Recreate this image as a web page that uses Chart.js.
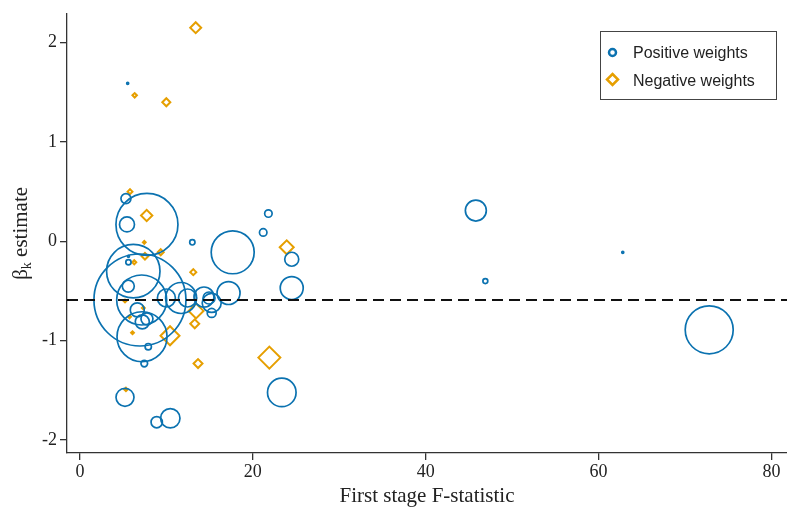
<!DOCTYPE html>
<html>
<head>
<meta charset="utf-8">
<script src="https://cdn.jsdelivr.net/npm/chart.js@4.4.1/dist/chart.umd.min.js"></script>
<style>
  html, body { margin: 0; padding: 0; background: #fff; }
</style>
</head>
<body>
<canvas id="fstatChart" width="787" height="509"></canvas>
<script>
// first stage F-statistic, beta_k estimate and weight of each instrument
const posF = [7.75, 5.44, 5.32, 13.0, 17.67, 21.8, 21.2, 24.5, 24.5, 45.8, 46.9, 62.8, 72.8,
  6.94, 6.17, 7.14, 7.18, 5.59, 5.61, 5.61, 6.63, 7.21, 7.75, 7.9, 7.44, 5.21, 8.88, 10.45,
  23.35, 10.0, 11.7, 12.44, 14.35, 14.93, 15.24, 15.24, 17.19, 5.52];
const posBeta = [0.17, 0.17, 0.43, -0.01, -0.11, 0.28, 0.09, -0.18, -0.47, 0.31, -0.40, -0.11, -0.89,
  -0.59, -0.30, -0.59, -0.96, -0.45, -0.21, -0.15, -0.69, -0.81, -0.78, -1.06, -1.23, -1.57, -1.82, -1.78,
  -1.52, -0.57, -0.57, -0.57, -0.56, -0.57, -0.62, -0.72, -0.52, 1.59];
const posWeight = [0.0961, 0.0056, 0.0025, 0.0007, 0.0462, 0.0014, 0.0014, 0.0049, 0.0132, 0.011, 0.0006, 0.0001, 0.0576,
  0.2116, 0.0713, 0.0625, 0.0625, 0.0036, 0.0007, 0.0001, 0.0049, 0.0049, 0.0036, 0.001, 0.0011, 0.0081, 0.0032, 0.0094,
  0.0204, 0.0081, 0.024, 0.0081, 0.01, 0.0036, 0.009, 0.002, 0.0132, 0.0001];

const negF = [13.39, 6.33, 9.99, 5.79, 7.72, 7.44, 7.52, 9.34, 6.28, 13.11, 23.92, 13.43, 13.28,
  10.42, 13.66, 21.91, 5.32, 5.21, 5.73, 7.33, 6.08];
const negBeta = [2.15, 1.47, 1.40, 0.50, 0.26, -0.01, -0.15, -0.11, -0.21, -0.31, -0.06, -0.70, -0.83,
  -0.95, -1.23, -1.17, -1.49, -0.60, -0.76, -0.67, -0.92];
const negWeight = [0.003, 0.0005, 0.0016, 0.0006, 0.0032, 0.0002, 0.0011, 0.0009, 0.0004, 0.0009, 0.0049, 0.0056, 0.002,
  0.009, 0.002, 0.0121, 0.0003, 0.0002, 0.0002, 0.0002, 0.0002];

const meanBeta = -0.59;
const xTicks = [0, 20, 40, 60, 80];
const yTicks = [-2, -1, 0, 1, 2];
const seriesLabels = ['Positive weights', 'Negative weights'];
const xTitle = 'First stage F-statistic';
const yTitle = ['\u03B2', 'k', ' estimate'];

const xMin = -1.5, xMax = 81.8;
const yMin = -2.13, yMax = 2.29;
const blue = '#0b72b0';
const orange = '#e69f00';
const axisColor = '#333';
const serif = '"Liberation Serif", "Times New Roman", serif';
const sans = '"Liberation Sans", Arial, sans-serif';

// bubble radius from weight (area proportional)
const radius = w => 100 * Math.sqrt(w);

function bubbles(xs, ys, ws) {
    return xs.map((x, i) => ({ x: x, y: ys[i], r: radius(ws[i]) }));
}

// y title with subscript and boxed legend, drawn on the canvas
const extrasPlugin = {
    id: 'extras',
    afterDraw(chart) {
        const ctx = chart.ctx;
        const area = chart.chartArea;

        ctx.save();
        ctx.translate(21, (area.top + area.bottom) / 2);
        ctx.rotate(-Math.PI / 2);
        ctx.fillStyle = '#222';
        ctx.textBaseline = 'middle';
        const mainFont = '21px ' + serif;
        const subFont = '14px ' + serif;
        ctx.font = mainFont;
        const w1 = ctx.measureText(yTitle[0]).width;
        const w3 = ctx.measureText(yTitle[2]).width;
        ctx.font = subFont;
        const w2 = ctx.measureText(yTitle[1]).width;
        let x0 = -(w1 + w2 + w3) / 2;
        ctx.font = mainFont;
        ctx.fillText(yTitle[0], x0, 0);
        ctx.font = subFont;
        ctx.fillText(yTitle[1], x0 + w1, 6);
        ctx.font = mainFont;
        ctx.fillText(yTitle[2], x0 + w1 + w2, 0);
        ctx.restore();

        // legend box
        ctx.save();
        ctx.strokeStyle = '#444';
        ctx.lineWidth = 1;
        ctx.strokeRect(600.5, 31.5, 176, 68);
        ctx.font = '16px ' + sans;
        ctx.fillStyle = '#222';
        ctx.textBaseline = 'middle';

        ctx.lineWidth = 2.5;
        ctx.strokeStyle = blue;
        ctx.beginPath();
        ctx.arc(612.5, 52.5, 3.5, 0, Math.PI * 2);
        ctx.stroke();
        ctx.fillText(seriesLabels[0], 633, 54);

        ctx.strokeStyle = orange;
        ctx.beginPath();
        ctx.moveTo(612.5, 74);
        ctx.lineTo(618, 79.5);
        ctx.lineTo(612.5, 85);
        ctx.lineTo(607, 79.5);
        ctx.closePath();
        ctx.stroke();
        ctx.fillText(seriesLabels[1], 633, 82);
        ctx.restore();
    }
};

const ctx = document.getElementById('fstatChart').getContext('2d');

new Chart(ctx, {
    type: 'bubble',
    data: {
        datasets: [
            {
                label: 'mean',
                type: 'line',
                data: [{ x: xMin, y: meanBeta }, { x: xMax, y: meanBeta }],
                borderColor: '#111',
                borderWidth: 2,
                borderDash: [11, 6],
                pointRadius: 0,
                fill: false,
                order: 0
            },
            {
                label: seriesLabels[0],
                data: bubbles(posF, posBeta, posWeight),
                borderColor: blue,
                backgroundColor: 'rgba(0,0,0,0)',
                borderWidth: 1.7,
                pointStyle: 'circle',
                order: 1
            },
            {
                label: seriesLabels[1],
                data: bubbles(negF, negBeta, negWeight),
                borderColor: orange,
                backgroundColor: 'rgba(0,0,0,0)',
                borderWidth: 2,
                pointStyle: 'rectRot',
                order: 2
            }
        ]
    },
    options: {
        responsive: false,
        animation: false,
        layout: { autoPadding: false, padding: { top: 8, right: 0, left: 0, bottom: 0 } },
        plugins: {
            legend: { display: false },
            tooltip: { enabled: false }
        },
        scales: {
            x: {
                type: 'linear',
                min: xMin,
                max: xMax,
                afterBuildTicks: s => { s.ticks = xTicks.map(v => ({ value: v })); },
                afterFit: s => { s.height = 56; },
                grid: { drawOnChartArea: false, drawTicks: true, tickLength: 7, color: axisColor, lineWidth: 1.3 },
                border: { display: true, color: axisColor, width: 1.3 },
                ticks: { font: { family: serif, size: 18 }, color: '#222', padding: 1, maxRotation: 0 },
                title: {
                    display: true,
                    text: xTitle,
                    font: { family: serif, size: 21 },
                    color: '#222',
                    padding: { top: 0, bottom: 0 }
                }
            },
            y: {
                type: 'linear',
                min: yMin,
                max: yMax,
                afterBuildTicks: s => { s.ticks = yTicks.map(v => ({ value: v })); },
                afterFit: s => { s.width = 67; },
                grid: { drawOnChartArea: false, drawTicks: true, tickLength: 7, color: axisColor, lineWidth: 1.3 },
                border: { display: true, color: axisColor, width: 1.3 },
                ticks: { font: { family: serif, size: 18 }, color: '#222', padding: 3 }
            }
        }
    },
    plugins: [extrasPlugin]
});
</script>
</body>
</html>
